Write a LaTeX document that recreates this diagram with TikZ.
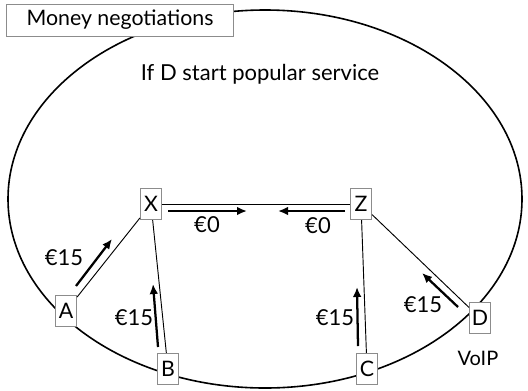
\documentclass[tikz,border=0pt]{standalone}
\usepackage{fontspec}
\setmainfont{Lato}
\usetikzlibrary{arrows.meta}

\tikzset{
  box/.style={draw=black!45, fill=white, line width=0.6pt, minimum width=16pt,
    minimum height=23.5pt, inner sep=1pt, font=\fontsize{16}{18}\selectfont},
  link/.style={line width=0.7pt},
  pay/.style={-{Latex[length=7.5pt,width=6.5pt]}, line width=1.7pt},
  amount/.style={font=\fontsize{16.5}{18}\selectfont},
}

\begin{document}
\begin{tikzpicture}[x=0.75pt, y=-0.75pt]
\useasboundingbox (0,0) rectangle (528,390);

% the ring
\draw[line width=1.2pt] (265,199) ellipse [x radius=257, y radius=189];

% title
\node[box, minimum width=170pt, minimum height=24pt] (title) at (120,20) {Money negotiations};
\node[font=\fontsize{16.5}{18}\selectfont] (cond) at (260,74) {If D start popular service};

% operators
\node[box] (X) at (151,204) {X};
\node[box] (Z) at (361,204) {Z};

% customers
\node[box] (A) at (66,311) {A};
\node[box] (B) at (168,369) {B};
\node[box] (C) at (367,369) {C};
\node[box] (D) at (480,318) {D};
\node[font=\fontsize{15}{18}\selectfont] (voip) at (478,358) {VoIP};

\draw[link] (X)--(Z);
\draw[link] (A)--(X);
\draw[link] (B)--(X);
\draw[link] (C)--(Z);
\draw[link] (D)--(Z);

% payments
\coordinate (xz0) at (168,211);
\coordinate (xz1) at (247,211);
\coordinate (zx0) at (345,211);
\coordinate (zx1) at (278,211);
\coordinate (ax0) at (76,286);
\coordinate (ax1) at (112,239);
\coordinate (bx0) at (158,347);
\coordinate (bx1) at (153,284);
\coordinate (cz0) at (358,346);
\coordinate (cz1) at (357,287);
\coordinate (dz0) at (458,307);
\coordinate (dz1) at (422,273);

\draw[pay] (xz0)--(xz1);
\draw[pay] (zx0)--(zx1);
\draw[pay] (ax0)--(ax1);
\draw[pay] (bx0)--(bx1);
\draw[pay] (cz0)--(cz1);
\draw[pay] (dz0)--(dz1);

\node[amount] (lxz) at (207,225) {€0};
\node[amount] (lzx) at (318,226) {€0};
\node[amount] (la) at (64,258) {€15};
\node[amount] (lb) at (134,318) {€15};
\node[amount] (lc) at (335,318) {€15};
\node[amount] (ld) at (423,305) {€15};

\end{tikzpicture}
\end{document}
